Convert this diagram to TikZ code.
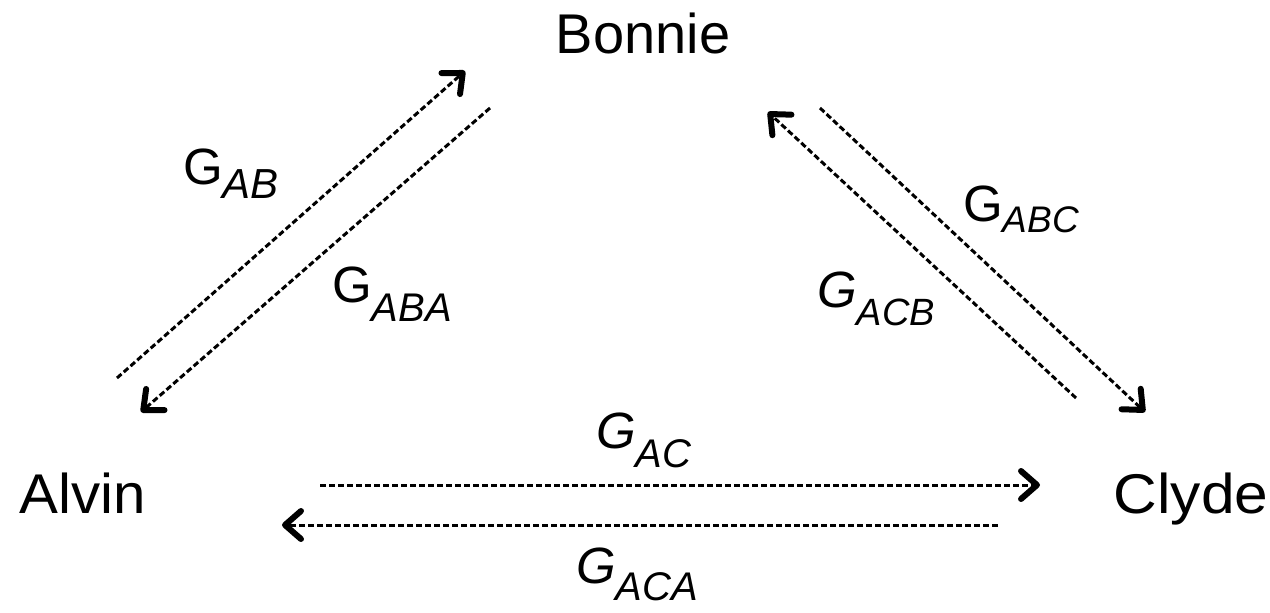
\documentclass[tikz,border=0pt]{standalone}
\usepackage{fontspec}
\setmainfont{Liberation Sans}
\usetikzlibrary{arrows.meta}
\newcommand{\glab}[4]{#1\raisebox{-#3pt}{\fontsize{#4}{#4}\selectfont\itshape #2}}
\begin{document}
\begin{tikzpicture}[x=1pt,y=-1pt,
  personname/.style={font=\fontsize{56}{60}\selectfont, inner sep=0pt, anchor=base},
  glabel/.style={font=\fontsize{51}{54}\selectfont, inner sep=0pt, anchor=base west},
  flow/.style={line width=3pt, dash pattern=on 6pt off 3pt,
    -{Straight Barb[length=16pt,width=28pt,line width=6pt,line cap=round,line join=round]}}]
\useasboundingbox (0,0) rectangle (1270,613);
\node[personname] (bonnie) at (643,53) {Bonnie};
\node[personname] (alvin) at (83,513) {\scalebox{1.04}[1]{Alvin}};
\node[personname] (clyde) at (1191,513) {\scalebox{1.08}[1]{Clyde}};
% coordinates
\coordinate (ab1) at (117,378); \coordinate (ab2) at (465,71);
\coordinate (ba1) at (490,108); \coordinate (ba2) at (141,412);
\coordinate (cb1) at (1076,398); \coordinate (cb2) at (768,112);
\coordinate (bc1) at (820,108); \coordinate (bc2) at (1145,412);
\coordinate (ac1) at (320,485); \coordinate (ac2) at (1040,485);
\coordinate (ca1) at (998,525); \coordinate (ca2) at (282,525);
\draw[flow] (ab1) -- (ab2);
\draw[flow] (ba1) -- (ba2);
\draw[flow] (cb1) -- (cb2);
\draw[flow] (bc1) -- (bc2);
\draw[flow] (ac1) -- (ac2);
\draw[flow] (ca1) -- (ca2);
\node[glabel] (lab) at (183,184) {\glab{G}{AB}{14}{42}};
\node[glabel] (laba) at (332,302) {\glab{G}{ABA}{19}{40}};
\node[glabel] (labc) at (963,221) {\glab{G}{ABC}{11}{37}};
\node[glabel] (lacb) at (817,307) {\glab{\itshape G}{ACB}{18}{38}};
\node[glabel] (lac) at (596,448) {\glab{\itshape G}{AC}{19}{40}};
\node[glabel] (laca) at (576,583) {\glab{\itshape G}{ACA}{17}{40}};
\end{tikzpicture}
\end{document}
